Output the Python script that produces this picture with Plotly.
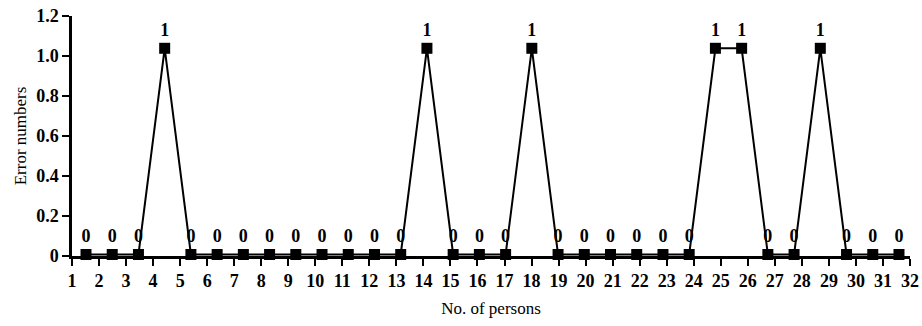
import plotly.graph_objects as go

# Data
persons = list(range(1, 33))
errors = [0, 0, 0, 1, 0, 0, 0, 0, 0, 0, 0, 0, 0, 1, 0, 0,
          0, 1, 0, 0, 0, 0, 0, 0, 1, 1, 0, 0, 1, 0, 0, 0]
labels = [str(e) for e in errors]
x_ticks = list(range(1, 33))
y_ticks = [0, 0.2, 0.4, 0.6, 0.8, 1.0, 1.2]
y_ticktext = ["0", "0.2", "0.4", "0.6", "0.8", "1.0", "1.2"]

FONT = "Liberation Serif"

fig = go.Figure()

# empty trace so the visible axes are drawn
fig.add_trace(go.Scatter(x=[None], y=[None], xaxis="x", yaxis="y",
                         showlegend=False, hoverinfo="skip"))

fig.add_trace(go.Scatter(
    x=persons, y=errors, xaxis="x2", yaxis="y2",
    mode="lines+markers+text",
    text=labels, textposition="top center",
    textfont=dict(family=FONT, size=18, color="black", weight="bold"),
    line=dict(color="black", width=2),
    marker=dict(symbol="square", size=11, color="black"),
    showlegend=False, cliponaxis=False,
))

axis_font = dict(family=FONT, size=18, color="black", weight="bold")

fig.update_layout(
    width=922, height=326,
    margin=dict(l=72, r=12, t=16, b=70, autoexpand=False),
    paper_bgcolor="white", plot_bgcolor="white",
    xaxis=dict(
        range=[1, 32], tickvals=x_ticks, ticktext=[str(t) for t in x_ticks],
        showgrid=False, zeroline=False, showline=True, linecolor="black",
        linewidth=2.5, ticks="outside", ticklen=7, tickwidth=2, tickcolor="black",
        tickfont=axis_font, automargin=False,
        title=dict(text="No. of persons", font=dict(family=FONT, size=17, color="black"),
                   standoff=12),
    ),
    yaxis=dict(
        range=[0, 1.2], tickvals=y_ticks, ticktext=y_ticktext,
        showgrid=False, zeroline=False, showline=True, linecolor="black",
        linewidth=2.5, ticks="outside", ticklen=7, tickwidth=2, tickcolor="black",
        tickfont=axis_font, automargin=False,
        title=dict(text="Error numbers", font=dict(family=FONT, size=17, color="black"),
                   standoff=6),
    ),
    xaxis2=dict(overlaying="x", range=[0.466, 32.42], visible=False),
    yaxis2=dict(overlaying="y", range=[-0.0073, 1.1566], visible=False),
)

fig.write_html(
    "out.html",
    config={"displayModeBar": False},
    post_script="document.body.style.margin='0';document.body.style.overflow='hidden';",
)
